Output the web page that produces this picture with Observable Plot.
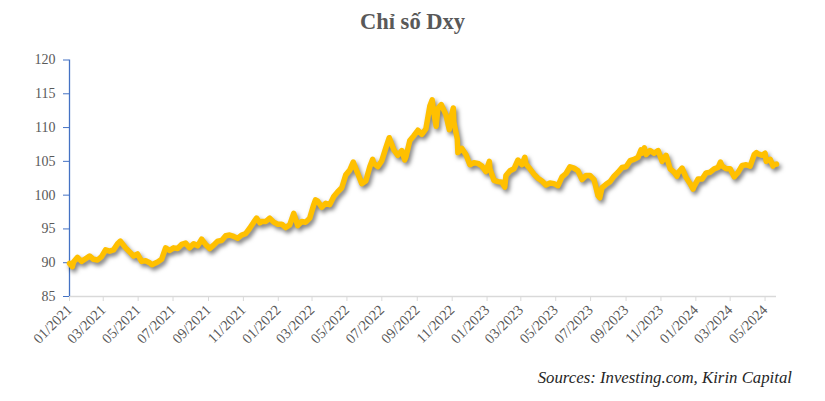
<!DOCTYPE html>
<html>
<head>
<meta charset="utf-8">
<script src="https://cdn.jsdelivr.net/npm/d3@7"></script>
<script src="https://cdn.jsdelivr.net/npm/@observablehq/plot@0.6"></script>
<style>
  html, body { margin: 0; padding: 0; background: #fff; }
  #wrap { position: relative; width: 825px; height: 401px; overflow: hidden; }
  #title { position: absolute; left: 0; top: 9px; width: 825px; text-align: center;
    font-family: "Liberation Serif", "Times New Roman", serif; font-weight: bold; font-size: 22.5px; color: #595959; }
  #caption { position: absolute; right: 33px; top: 368px;
    font-family: "Liberation Serif", "Times New Roman", serif; font-style: italic; font-size: 16.8px; color: #262626; }
  #chart { position: absolute; left: 0; top: 0; }
  #chart svg text { font-family: "Liberation Serif", "Times New Roman", serif !important; }
</style>
</head>
<body>
<div id="wrap">
  <div id="chart"></div>
  <div id="title">Chỉ số Dxy</div>
  <div id="caption">Sources: Investing.com, Kirin Capital</div>
</div>
<script>
const dates = [
  "2021-01-01","2021-01-06","2021-01-08","2021-01-15","2021-01-22","2021-01-29","2021-02-05","2021-02-12","2021-02-19","2021-02-26",
  "2021-03-05","2021-03-12","2021-03-19","2021-03-26","2021-03-31","2021-04-09","2021-04-16","2021-04-23","2021-04-30","2021-05-07",
  "2021-05-14","2021-05-21","2021-05-25","2021-06-04","2021-06-11","2021-06-18","2021-06-25","2021-07-02","2021-07-09","2021-07-16",
  "2021-07-23","2021-07-30","2021-08-06","2021-08-13","2021-08-20","2021-08-27","2021-09-03","2021-09-10","2021-09-17","2021-09-24",
  "2021-10-01","2021-10-08","2021-10-15","2021-10-22","2021-10-29","2021-11-05","2021-11-12","2021-11-19","2021-11-24","2021-11-30",
  "2021-12-03","2021-12-10","2021-12-17","2021-12-24","2021-12-31",
  "2022-01-07","2022-01-14","2022-01-21","2022-01-28","2022-02-04","2022-02-11","2022-02-18","2022-02-25","2022-03-04","2022-03-07",
  "2022-03-11","2022-03-18","2022-03-25","2022-04-01","2022-04-08","2022-04-15","2022-04-22","2022-04-29","2022-05-06","2022-05-12",
  "2022-05-20","2022-05-27","2022-06-03","2022-06-10","2022-06-15","2022-06-17","2022-06-24","2022-07-01","2022-07-08","2022-07-14",
  "2022-07-22","2022-07-29","2022-08-05","2022-08-10","2022-08-12","2022-08-19","2022-08-26","2022-09-02","2022-09-09","2022-09-16",
  "2022-09-23","2022-09-27","2022-09-30","2022-10-04","2022-10-07","2022-10-13","2022-10-21","2022-10-27","2022-10-28","2022-11-03",
  "2022-11-04","2022-11-10","2022-11-11","2022-11-18","2022-11-25","2022-12-02","2022-12-09","2022-12-16","2022-12-23","2022-12-30",
  "2023-01-05","2023-01-06","2023-01-13","2023-01-20","2023-01-27","2023-02-01","2023-02-03","2023-02-10","2023-02-17","2023-02-24",
  "2023-03-03","2023-03-08","2023-03-10","2023-03-17","2023-03-24","2023-03-31","2023-04-07","2023-04-14","2023-04-21","2023-04-28",
  "2023-05-05","2023-05-12","2023-05-19","2023-05-26","2023-06-02","2023-06-09","2023-06-16","2023-06-23","2023-06-30","2023-07-07",
  "2023-07-14","2023-07-17","2023-07-21","2023-07-28","2023-08-04","2023-08-11","2023-08-18","2023-08-25","2023-09-01","2023-09-08",
  "2023-09-15","2023-09-22","2023-09-27","2023-09-29","2023-10-03","2023-10-06","2023-10-13","2023-10-20","2023-10-27","2023-11-03",
  "2023-11-10","2023-11-17","2023-11-24","2023-11-29","2023-12-01","2023-12-08","2023-12-15","2023-12-22","2023-12-27","2023-12-29",
  "2024-01-05","2024-01-12","2024-01-19","2024-01-26","2024-02-02","2024-02-09","2024-02-13","2024-02-16","2024-02-23","2024-03-01",
  "2024-03-08","2024-03-15","2024-03-22","2024-03-29","2024-04-05","2024-04-12","2024-04-16","2024-04-19","2024-04-26","2024-05-01",
  "2024-05-03","2024-05-10","2024-05-15","2024-05-17","2024-05-21"
];
const dxy = [
  89.9,89.4,90.1,90.8,90.2,90.6,91.0,90.5,90.4,90.9,
  91.9,91.7,91.9,92.8,93.2,92.2,91.6,91.0,91.3,90.2,
  90.3,90.0,89.7,90.1,90.5,92.2,91.8,92.2,92.1,92.7,
  92.9,92.2,92.8,92.5,93.5,92.7,92.1,92.6,93.2,93.3,
  94.0,94.1,93.9,93.6,94.1,94.3,95.1,96.0,96.6,95.9,
  96.1,96.1,96.6,96.0,95.7,
  95.7,95.2,95.6,97.3,95.5,96.1,96.0,96.6,98.6,99.3,
  99.1,98.2,98.8,98.6,99.8,100.5,101.1,103.0,103.7,104.9,
  103.2,101.7,102.1,104.2,105.3,104.7,104.2,105.1,107.0,108.5,
  106.7,105.9,106.6,105.2,105.6,108.1,108.8,109.6,109.0,109.8,
  113.2,114.1,112.1,110.2,112.8,113.4,111.9,109.7,110.8,112.9,
  110.8,108.3,106.3,106.9,106.0,104.5,104.8,104.7,104.3,103.5,
  105.0,103.9,102.2,102.0,101.9,101.2,102.9,103.6,103.9,105.2,
  104.5,105.6,104.6,103.9,103.1,102.5,102.1,101.5,101.8,101.7,
  101.4,102.7,103.2,104.2,104.0,103.6,102.3,102.9,102.9,102.3,
  99.9,99.6,101.1,101.6,102.0,102.8,103.4,104.1,104.2,105.1,
  105.3,105.6,106.7,106.2,107.0,106.0,106.6,106.2,106.6,105.0,
  105.9,103.9,103.4,102.8,103.3,104.0,102.6,101.7,100.9,101.3,
  102.4,102.4,103.3,103.4,103.9,104.1,104.9,104.3,103.9,103.9,
  102.7,103.4,104.4,104.5,104.3,106.0,106.3,106.1,105.9,106.2,
  105.0,105.3,104.3,104.5,104.6
];
const yTicks = [85, 90, 95, 100, 105, 110, 115, 120];
const xStart = "2021-01-01";
const xEnd = "2024-05-21";
const xTickFormat = "%m/%Y";

const data = dates.map((d, i) => ({date: new Date(d + "T00:00:00Z"), value: dxy[i]}));
const x0 = new Date(xStart + "T00:00:00Z");
const x1 = new Date(xEnd + "T00:00:00Z");
const xTicks = d3.utcMonth.every(2).range(x0, new Date("2024-05-02T00:00:00Z"));

const chart = Plot.plot({
  width: 825,
  height: 401,
  marginLeft: 69,
  marginRight: 49,
  marginTop: 59.5,
  marginBottom: 105,
  style: {fontFamily: "'Liberation Serif', 'Times New Roman', serif", fontSize: "14px", background: "transparent"},
  x: {type: "utc", domain: [x0, x1]},
  y: {domain: [85, 120]},
  marks: [
    Plot.ruleY([85], {stroke: "#d9d9d9", strokeWidth: 1.5}),
    Plot.ruleX([x0], {stroke: "#4472C4", strokeWidth: 1.3}),
    Plot.axisY({ticks: yTicks, tickSize: 6, tickPadding: 8, stroke: "#4472C4", fill: "#595959", label: null, fontSize: 14}),
    Plot.axisX({ticks: xTicks, tickFormat: d3.utcFormat(xTickFormat), tickRotate: -45, tickSize: 5, tickPadding: 6, stroke: "#d9d9d9", fill: "#595959", label: null, fontSize: 14.5}),
    Plot.line(data, {x: "date", y: "value", stroke: "#FFC000", strokeWidth: 5.5, curve: "linear", strokeLinejoin: "round", strokeLinecap: "round"})
  ]
});
document.getElementById("chart").appendChild(chart);
const lineG = chart.querySelector('g[aria-label="line"]');
if (lineG) lineG.style.filter = "drop-shadow(2px 3px 2px rgba(0,0,0,0.5))";
</script>
</body>
</html>
